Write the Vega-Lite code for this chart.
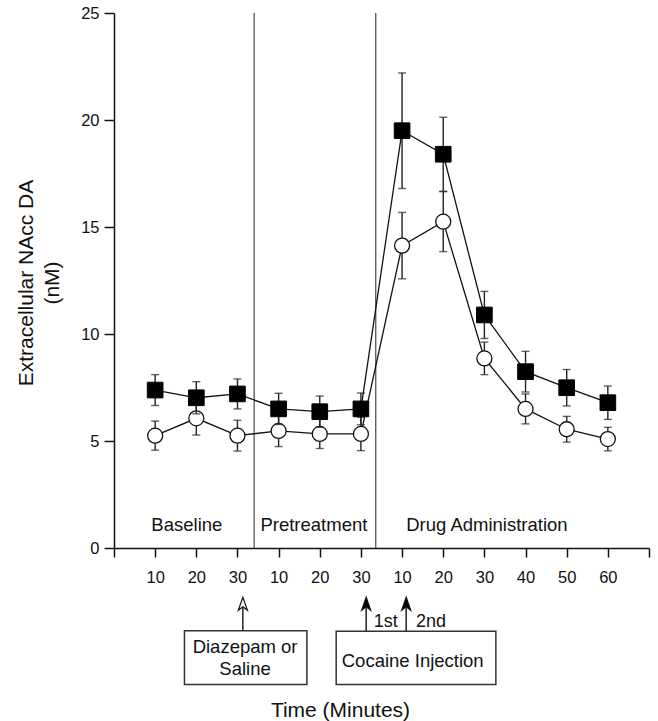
{
  "$schema": "https://vega.github.io/schema/vega-lite/v6.json",
  "width": 535,
  "height": 535,
  "autosize": {"type": "none"},
  "padding": {"left": 114, "top": 13, "right": 9, "bottom": 173},
  "background": "white",
  "config": {
    "view": {"stroke": null},
    "font": "Liberation Sans",
    "axis": {
      "grid": false,
      "domainColor": "#111",
      "domainWidth": 1.5,
      "tickColor": "#111",
      "tickWidth": 1.5,
      "labelFont": "Liberation Sans",
      "labelFontSize": 16.5,
      "labelColor": "#111",
      "titleFont": "Liberation Sans",
      "titleFontSize": 21,
      "titleFontWeight": "normal",
      "titleColor": "#111"
    }
  },
  "datasets": {
    "series": [
      {"t": 1, "series": "filled", "mean": 7.38, "lo": 6.66, "hi": 8.10},
      {"t": 2, "series": "filled", "mean": 7.02, "lo": 6.27, "hi": 7.77},
      {"t": 3, "series": "filled", "mean": 7.20, "lo": 6.50, "hi": 7.90},
      {"t": 4, "series": "filled", "mean": 6.50, "lo": 5.77, "hi": 7.23},
      {"t": 5, "series": "filled", "mean": 6.37, "lo": 5.64, "hi": 7.10},
      {"t": 6, "series": "filled", "mean": 6.50, "lo": 5.76, "hi": 7.24},
      {"t": 7, "series": "filled", "mean": 19.50, "lo": 16.80, "hi": 22.20},
      {"t": 8, "series": "filled", "mean": 18.40, "lo": 16.67, "hi": 20.13},
      {"t": 9, "series": "filled", "mean": 10.89, "lo": 9.79, "hi": 11.99},
      {"t": 10, "series": "filled", "mean": 8.24, "lo": 7.29, "hi": 9.19},
      {"t": 11, "series": "filled", "mean": 7.49, "lo": 6.64, "hi": 8.34},
      {"t": 12, "series": "filled", "mean": 6.79, "lo": 6.01, "hi": 7.57},
      {"t": 1, "series": "open", "mean": 5.25, "lo": 4.57, "hi": 5.93},
      {"t": 2, "series": "open", "mean": 6.06, "lo": 5.28, "hi": 6.84},
      {"t": 3, "series": "open", "mean": 5.25, "lo": 4.53, "hi": 5.97},
      {"t": 4, "series": "open", "mean": 5.47, "lo": 4.74, "hi": 6.20},
      {"t": 5, "series": "open", "mean": 5.33, "lo": 4.65, "hi": 6.01},
      {"t": 6, "series": "open", "mean": 5.33, "lo": 4.55, "hi": 6.11},
      {"t": 7, "series": "open", "mean": 14.13, "lo": 12.58, "hi": 15.68},
      {"t": 8, "series": "open", "mean": 15.25, "lo": 13.85, "hi": 16.65},
      {"t": 9, "series": "open", "mean": 8.86, "lo": 8.10, "hi": 9.62},
      {"t": 10, "series": "open", "mean": 6.50, "lo": 5.80, "hi": 7.20},
      {"t": 11, "series": "open", "mean": 5.55, "lo": 4.95, "hi": 6.15},
      {"t": 12, "series": "open", "mean": 5.09, "lo": 4.54, "hi": 5.64}
    ],
    "dividers": [{"x": 3.406}, {"x": 6.36}],
    "phases": [
      {"x": 1.770, "y": 0.79, "label": "Baseline"},
      {"x": 4.857, "y": 0.79, "label": "Pretreatment"},
      {"x": 9.061, "y": 0.79, "label": "Drug Administration"}
    ],
    "boxes": [
      {"x1": 1.712, "x2": 4.687, "y1": -3.871, "y2": -6.376},
      {"x1": 5.399, "x2": 9.279, "y1": -3.885, "y2": -6.376}
    ],
    "arrows": [
      {"x": 3.131, "tip": -2.607, "base": -3.871, "kind": "open"},
      {"x": 6.128, "tip": -2.607, "base": -3.885, "kind": "filled"},
      {"x": 7.100, "tip": -2.607, "base": -3.885, "kind": "filled"}
    ],
    "notes": [
      {"x": 3.185, "y": -4.921, "label": "Diazepam or", "size": "big"},
      {"x": 3.185, "y": -5.930, "label": "Saline", "size": "big"},
      {"x": 7.258, "y": -5.547, "label": "Cocaine Injection", "size": "big"},
      {"x": 6.601, "y": -3.676, "label": "1st", "size": "small"},
      {"x": 7.703, "y": -3.676, "label": "2nd", "size": "small"}
    ]
  },
  "encoding": {
    "x": {
      "type": "quantitative",
      "scale": {"domain": [0, 13], "nice": false, "zero": false},
      "axis": {
        "values": [0, 1, 2, 3, 4, 5, 6, 7, 8, 9, 10, 11, 12, 13],
        "labelExpr": "datum.value < 1 || datum.value > 12 ? '' : (datum.value <= 6 ? ((datum.value - 1) % 3 + 1) * 10 : (datum.value - 6) * 10)",
        "tickSize": 9,
        "labelPadding": 25.5,
        "labelBaseline": "alphabetic",
        "title": "Time (Minutes)",
        "titleX": 226,
        "titleY": 168,
        "titleBaseline": "alphabetic",
        "titleAlign": "center",
        "titleAnchor": null
      }
    },
    "y": {
      "type": "quantitative",
      "scale": {"domain": [0, 25], "nice": false},
      "axis": {
        "values": [0, 5, 10, 15, 20, 25],
        "tickSize": 10,
        "labelPadding": 5,
        "title": ["Extracellular NAcc DA", "(nM)"],
        "titleX": -81.5,
        "titleY": 269.5,
        "titleAngle": -90,
        "titleAlign": "center",
        "titleBaseline": "alphabetic",
        "titleLineHeight": 26
      }
    }
  },
  "layer": [
    {
      "data": {"name": "dividers"},
      "mark": {"type": "rule", "color": "#555", "strokeWidth": 1.3},
      "encoding": {"x": {"field": "x"}, "y": {"datum": 0}, "y2": {"datum": 25}}
    },
    {
      "data": {"name": "phases"},
      "mark": {"type": "text", "fontSize": 18.5, "color": "#111", "baseline": "alphabetic", "align": "center"},
      "encoding": {"x": {"field": "x"}, "y": {"field": "y"}, "text": {"field": "label"}}
    },
    {
      "data": {"name": "series"},
      "transform": [{"filter": "datum.series === 'open'"}],
      "layer": [
        {
          "mark": {"type": "errorbar", "color": "#222", "thickness": 1.4, "ticks": {"size": 8, "thickness": 1.4, "color": "#222"}},
          "encoding": {"x": {"field": "t"}, "y": {"field": "lo"}, "y2": {"field": "hi"}}
        },
        {
          "mark": {"type": "line", "color": "#111", "strokeWidth": 1.3},
          "encoding": {"x": {"field": "t"}, "y": {"field": "mean"}}
        },
        {
          "mark": {"type": "point", "shape": "circle", "size": 225, "filled": true, "fill": "white", "stroke": "#111", "strokeWidth": 1.3, "opacity": 1},
          "encoding": {"x": {"field": "t"}, "y": {"field": "mean"}}
        }
      ]
    },
    {
      "data": {"name": "series"},
      "transform": [{"filter": "datum.series === 'filled'"}],
      "layer": [
        {
          "mark": {"type": "errorbar", "color": "#222", "thickness": 1.4, "ticks": {"size": 8, "thickness": 1.4, "color": "#222"}},
          "encoding": {"x": {"field": "t"}, "y": {"field": "lo"}, "y2": {"field": "hi"}}
        },
        {
          "mark": {"type": "line", "color": "#111", "strokeWidth": 1.3},
          "encoding": {"x": {"field": "t"}, "y": {"field": "mean"}}
        },
        {
          "mark": {"type": "point", "shape": "square", "size": 245, "filled": true, "fill": "black", "stroke": "black", "strokeWidth": 1, "opacity": 1},
          "encoding": {"x": {"field": "t"}, "y": {"field": "mean"}}
        }
      ]
    },
    {
      "data": {"name": "boxes"},
      "mark": {"type": "rect", "fill": "white", "stroke": "#333", "strokeWidth": 1.5},
      "encoding": {"x": {"field": "x1"}, "x2": {"field": "x2"}, "y": {"field": "y1"}, "y2": {"field": "y2"}}
    },
    {
      "data": {"name": "arrows"},
      "mark": {"type": "rule", "color": "#222", "strokeWidth": 1.5},
      "encoding": {"x": {"field": "x"}, "y": {"field": "tip"}, "y2": {"field": "base"}}
    },
    {
      "data": {"name": "arrows"},
      "mark": {"type": "point", "shape": "M0,-1L0.7,1L0,0.45L-0.7,1Z", "size": 169, "stroke": "#111", "strokeWidth": 1.2, "opacity": 1},
      "encoding": {
        "x": {"field": "x"},
        "y": {"field": "tip"},
        "fill": {"field": "kind", "type": "nominal", "scale": {"domain": ["open", "filled"], "range": ["white", "black"]}, "legend": null}
      }
    },
    {
      "data": {"name": "notes"},
      "mark": {"type": "text", "color": "#111", "baseline": "alphabetic", "align": "center"},
      "encoding": {
        "x": {"field": "x"},
        "y": {"field": "y"},
        "text": {"field": "label"},
        "size": {"field": "size", "type": "nominal", "scale": {"domain": ["big", "small"], "range": [18.5, 18]}, "legend": null}
      }
    }
  ]
}
